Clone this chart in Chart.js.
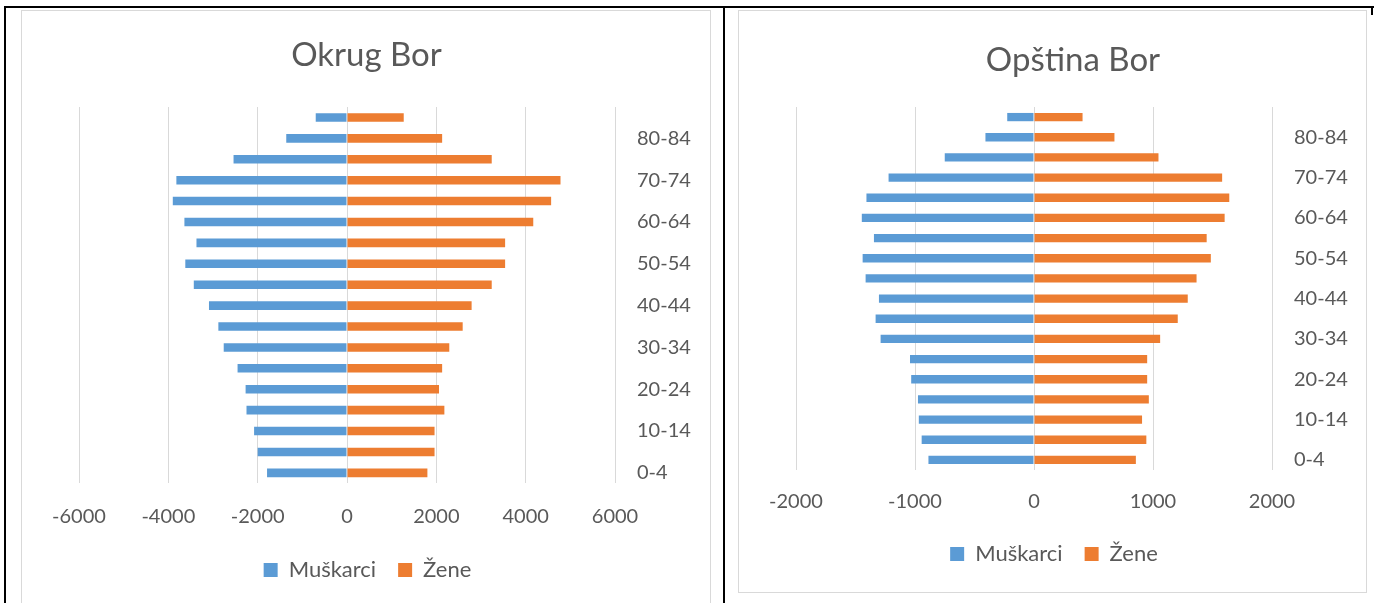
<!DOCTYPE html>
<html lang="sr">
<head>
<meta charset="utf-8">
<title>Okrug Bor / Opština Bor</title>
<script src="https://cdn.jsdelivr.net/npm/chart.js@4.4.1/dist/chart.umd.min.js"></script>
<style>
  html, body { margin: 0; padding: 0; background: #fff; width: 1375px; height: 603px; overflow: hidden; }
  .rule { position: absolute; background: #000; }
  .frame { position: absolute; box-sizing: border-box; border: 1px solid #D9D9D9; background: #fff; }
  .plot { position: absolute; }
</style>
</head>
<body>
<!-- table cell rules -->
<div class="rule" style="left:4px;top:6px;width:1370px;height:2px"></div>
<div class="rule" style="left:4px;top:6px;width:2px;height:597px"></div>
<div class="rule" style="left:723px;top:6px;width:2px;height:597px"></div>
<div class="rule" style="left:1371px;top:6px;width:2px;height:9px"></div>
<!-- chart frames -->
<div class="frame" style="left:21px;top:10px;width:690px;height:620px"></div>
<div class="frame" style="left:738px;top:10px;width:629px;height:583px"></div>
<div class="plot" style="left:22px;top:11px;width:688px;height:580px"><canvas id="okrug"></canvas></div>
<div class="plot" style="left:739px;top:11px;width:627px;height:564px"><canvas id="opstina"></canvas></div>

<script>
// Age groups, youngest first
const ageGroups = ['0-4', '5-9', '10-14', '15-19', '20-24', '25-29', '30-34', '35-39', '40-44',
                   '45-49', '50-54', '55-59', '60-64', '65-69', '70-74', '75-79', '80-84', '85+'];

// Okrug Bor (men plotted to the left as negative values)
const okrugMen   = [-1790, -2000, -2080, -2250, -2270, -2450, -2760, -2880, -3090,
                    -3430, -3620, -3370, -3640, -3900, -3820, -2540, -1360, -700];
const okrugWomen = [1800, 1960, 1960, 2180, 2060, 2130, 2290, 2590, 2790,
                    3240, 3540, 3540, 4170, 4570, 4780, 3240, 2130, 1270];

// Opština Bor
const opstinaMen   = [-887, -944, -968, -975, -1032, -1042, -1289, -1331, -1303,
                      -1415, -1440, -1345, -1447, -1408, -1222, -750, -408, -225];
const opstinaWomen = [856, 944, 908, 965, 951, 951, 1060, 1208, 1292,
                      1366, 1486, 1451, 1602, 1641, 1581, 1046, 676, 408];

const seriesNames = ['Muškarci', 'Žene'];
const seriesColors = ['#5B9BD5', '#ED7D31'];
const textColor = '#595959';
const gridColor = '#D9D9D9';

Chart.defaults.font.family = 'Lato, "Open Sans", sans-serif';
Chart.defaults.color = textColor;

// Moves the title and legend blocks sideways after layout
const blockShift = {
  id: 'blockShift',
  afterLayout(chart, args, opts) {
    const t = chart.titleBlock;
    if (t && opts.titleDx) { t.left += opts.titleDx; t.right += opts.titleDx; }
    const l = chart.legend;
    if (l && opts.legendDx) { l.left += opts.legendDx; l.right += opts.legendDx; }
  }
};

function pyramid(id, title, men, women, range, look) {
  return new Chart(document.getElementById(id), {
    type: 'bar',
    plugins: [blockShift],
    data: {
      labels: ageGroups,
      datasets: [
        { label: seriesNames[0], data: men, backgroundColor: seriesColors[0], borderWidth: 0 },
        { label: seriesNames[1], data: women, backgroundColor: seriesColors[1], borderWidth: 0 }
      ]
    },
    options: {
      indexAxis: 'y',
      responsive: true,
      maintainAspectRatio: false,
      animation: false,
      devicePixelRatio: 1,
      layout: { padding: { left: 57, right: 0, top: 0, bottom: 0 } },
      datasets: { bar: { categoryPercentage: 1, barPercentage: 0.41 } },
      scales: {
        x: {
          type: 'linear',
          stacked: true,
          min: range.min,
          max: range.max,
          grid: { color: gridColor, lineWidth: 1, drawTicks: false },
          border: { display: false },
          ticks: {
            stepSize: range.step,
            padding: look.xPad,
            color: textColor,
            font: { size: 20 },
            callback: v => String(v)
          },
          afterFit(s) { s.height = look.xHeight; }
        },
        y: {
          type: 'category',
          position: 'right',
          reverse: true,
          stacked: true,
          grid: { display: false, drawTicks: false },
          border: { display: false },
          ticks: {
            autoSkip: false,
            padding: 22,
            color: textColor,
            font: { size: 20 },
            callback(v, i) { return i % 2 === 0 ? this.getLabelForValue(v) : ''; }
          },
          afterFit(s) { s.width = look.yWidth; }
        }
      },
      plugins: {
        title: {
          display: true,
          text: title,
          color: textColor,
          font: { size: 33, weight: 'normal' },
          padding: { top: look.titleTop, bottom: look.titleBottom }
        },
        blockShift: { titleDx: look.titleDx, legendDx: look.legendDx },
        legend: {
          position: 'bottom',
          labels: {
            boxWidth: 14,
            boxHeight: 14,
            padding: 22,
            color: textColor,
            font: { size: 22 }
          }
        },
        tooltip: { enabled: false }
      }
    }
  });
}

pyramid('okrug', 'Okrug Bor', okrugMen, okrugWomen,
  { min: -6000, max: 6000, step: 2000 },
  { xPad: 21, xHeight: 53.7, yWidth: 95, titleTop: 25, titleBottom: 31.4, titleDx: -28, legendDx: -27 });

pyramid('opstina', 'Opština Bor', opstinaMen, opstinaWomen,
  { min: -2000, max: 2000, step: 1000 },
  { xPad: 19.5, xHeight: 51, yWidth: 94, titleTop: 29.8, titleBottom: 26.6, titleDx: -8, legendDx: -27 });
</script>
</body>
</html>
